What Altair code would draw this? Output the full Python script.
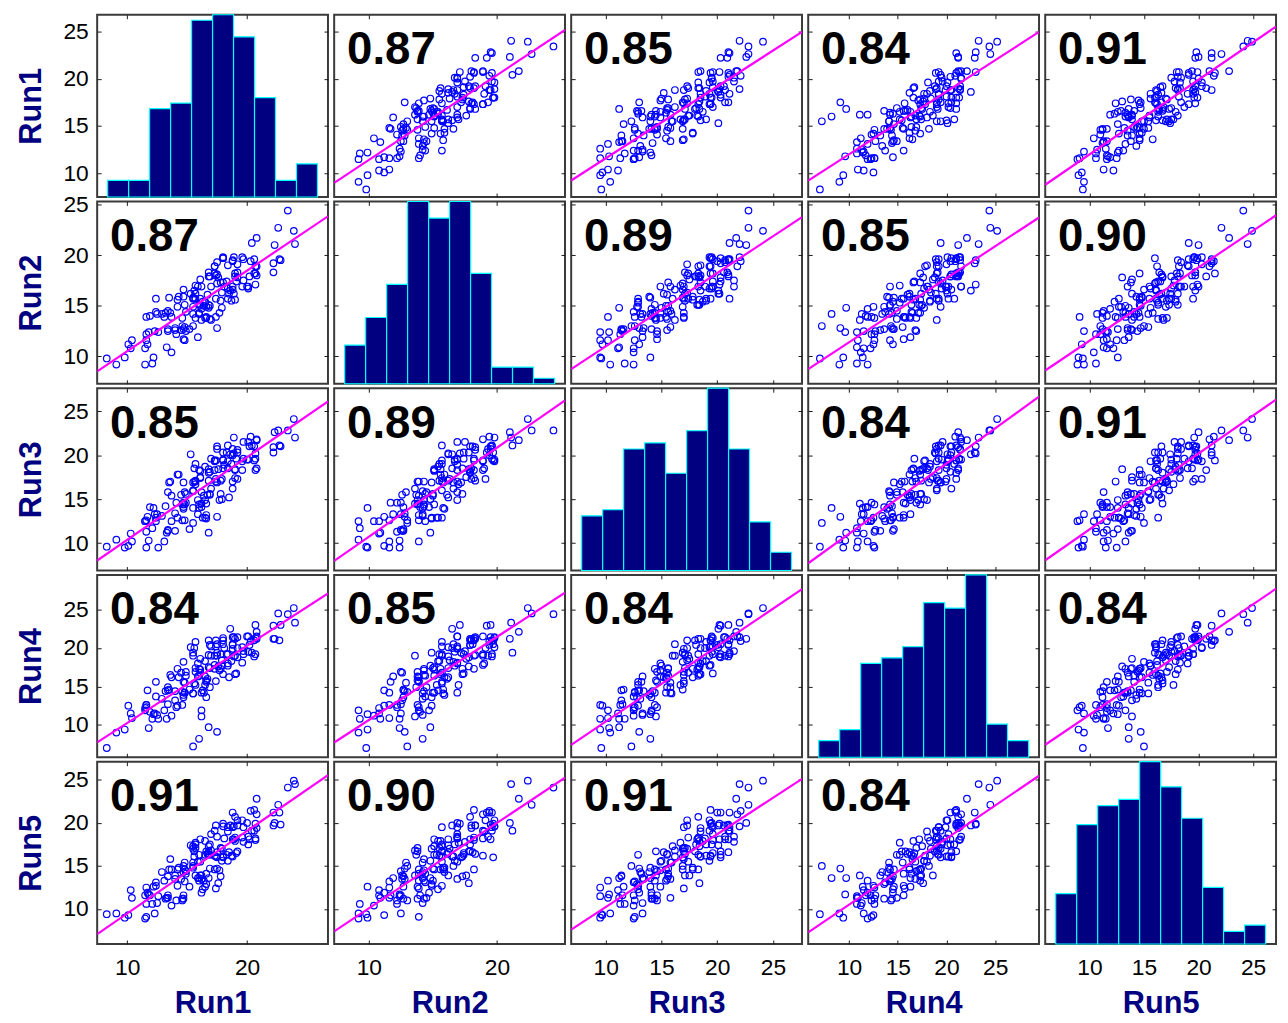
import altair as alt
import numpy as np
import pandas as pd

names = ["Run1", "Run2", "Run3", "Run4", "Run5"]

run1 = [8.3, 9.1, 9.8, 10.3, 10.4, 12.1, 10.1, 11.8, 11.5, 12.6,
        11.6, 13.7, 11.6, 13.3, 11.5, 14.6, 12.2, 11.6, 13.1, 12.3,
        12.5, 14.0, 11.7, 14.6, 13.4, 12.4, 14.1, 15.2, 11.9, 14.8,
        14.7, 12.9, 16.2, 13.4, 13.2, 15.5, 12.4, 14.7, 15.9, 14.2,
        16.6, 14.9, 13.4, 15.5, 14.0, 15.5, 16.0, 16.2, 16.8, 17.5,
        16.5, 14.7, 14.8, 16.3, 13.7, 13.5, 16.0, 16.5, 14.5, 16.4,
        15.9, 17.4, 14.8, 13.6, 16.6, 16.6, 14.2, 16.2, 17.9, 14.9,
        15.6, 17.7, 14.7, 16.9, 15.7, 17.8, 16.0, 17.0, 14.3, 16.7,
        18.7, 15.7, 16.9, 16.1, 15.7, 15.5, 17.3, 18.5, 16.5, 16.1,
        17.5, 16.1, 18.4, 15.5, 18.0, 19.0, 16.8, 15.3, 17.6, 17.8,
        17.3, 18.8, 16.8, 19.1, 15.6, 17.3, 18.8, 15.7, 19.2, 17.9,
        18.9, 16.8, 18.4, 17.4, 19.0, 17.4, 20.1, 18.0, 19.6, 17.0,
        20.7, 18.4, 16.9, 19.2, 18.3, 20.7, 18.6, 17.5, 19.6, 18.1,
        18.0, 19.7, 20.8, 17.5, 20.0, 20.1, 18.8, 20.6, 19.0, 18.8,
        20.3, 18.0, 20.2, 20.7, 19.7, 20.6, 18.9, 20.4, 22.2, 19.2,
        20.8, 22.7, 22.8, 22.2, 20.8, 22.6, 22.3, 23.4, 24.0, 23.9]

run2 = [9.8, 9.2, 9.9, 10.8, 11.6, 9.3, 11.2, 12.4, 9.2, 12.4,
        11.6, 10.4, 13.9, 10.9, 10.8, 13.0, 9.9, 12.2, 13.9, 12.5,
        14.2, 12.6, 11.2, 13.8, 12.5, 14.4, 12.2, 12.7, 14.0, 11.6,
        11.7, 14.2, 14.7, 12.7, 14.3, 14.2, 15.7, 12.7, 11.9, 14.9,
        14.9, 12.5, 14.5, 15.8, 12.8, 13.0, 14.2, 13.6, 14.8, 12.8,
        13.8, 15.9, 12.9, 15.4, 13.9, 15.8, 14.3, 15.3, 12.6, 15.0,
        16.9, 13.9, 15.1, 14.3, 13.9, 13.8, 15.6, 16.9, 14.8, 14.4,
        15.7, 14.3, 16.6, 13.7, 16.2, 17.3, 15.1, 13.6, 15.9, 16.1,
        15.5, 17.0, 15.0, 17.6, 13.8, 14.9, 18.2, 16.2, 15.4, 15.7,
        17.2, 15.1, 16.7, 15.7, 17.3, 15.6, 18.3, 16.2, 17.8, 15.5,
        18.9, 16.6, 15.1, 17.4, 16.5, 18.9, 16.9, 15.7, 17.8, 16.3,
        16.2, 17.9, 19.0, 15.7, 18.2, 18.0, 16.7, 19.7, 16.9, 16.9,
        18.2, 15.7, 17.9, 19.1, 17.4, 18.9, 16.5, 18.1, 19.8, 16.9,
        19.7, 17.5, 18.0, 19.3, 16.9, 16.9, 19.4, 19.6, 17.9, 19.5,
        19.4, 19.8, 17.9, 17.1, 19.6, 18.2, 19.8, 21.2, 19.2, 18.3,
        21.7, 19.6, 19.5, 18.3, 18.9, 22.7, 21.0, 24.4, 21.1, 22.4]

run3 = [9.6, 10.4, 9.5, 11.1, 10.2, 11.7, 9.7, 10.3, 12.5, 9.5,
        9.5, 12.5, 12.6, 11.2, 12.5, 12.6, 14.0, 11.3, 10.2, 13.3,
        13.3, 11.4, 13.0, 14.4, 11.5, 12.5, 14.6, 11.6, 14.1, 12.6,
        14.6, 13.1, 14.1, 11.4, 14.2, 15.9, 12.9, 14.1, 13.3, 12.9,
        12.8, 14.6, 15.8, 14.0, 13.4, 12.3, 14.0, 14.5, 11.2, 13.0,
        14.9, 13.9, 15.8, 12.9, 15.4, 16.9, 14.4, 12.9, 15.5, 15.4,
        14.9, 17.0, 14.4, 17.0, 13.2, 14.5, 17.8, 15.8, 15.0, 15.6,
        17.0, 14.9, 16.9, 15.5, 17.1, 15.6, 18.3, 16.2, 17.8, 15.5,
        19.0, 16.7, 15.6, 17.5, 17.0, 16.9, 18.3, 15.2, 18.7, 17.4,
        16.9, 18.2, 19.3, 16.0, 18.5, 18.4, 17.1, 20.1, 18.4, 17.1,
        19.3, 16.2, 18.4, 19.6, 18.5, 19.4, 17.0, 19.0, 20.3, 17.3,
        20.2, 18.0, 18.5, 19.4, 17.4, 17.3, 19.5, 20.3, 18.3, 19.6,
        19.6, 21.1, 18.1, 17.3, 20.3, 18.3, 20.1, 21.0, 19.3, 18.9,
        19.4, 21.5, 18.5, 20.7, 19.5, 21.5, 20.0, 21.0, 18.3, 20.7,
        22.1, 19.5, 21.0, 20.2, 19.6, 19.4, 22.0, 21.1, 20.3, 20.6,
        21.7, 21.1, 21.0, 20.9, 21.8, 22.8, 22.6, 22.8, 22.0, 24.1]

run4 = [7.0, 9.0, 9.4, 11.5, 10.9, 10.8, 12.5, 9.6, 11.9, 10.8,
        12.6, 11.2, 12.3, 10.8, 12.2, 14.3, 11.4, 12.6, 11.9, 11.5,
        11.3, 13.2, 14.5, 12.6, 12.7, 13.7, 12.3, 14.6, 11.7, 14.2,
        15.6, 13.4, 11.9, 14.5, 14.4, 14.1, 15.6, 13.6, 16.3, 12.5,
        13.6, 16.9, 14.9, 14.1, 14.4, 7.2, 8.2, 11.1, 9.7, 9.1,
        16.3, 13.9, 15.5, 14.5, 16.2, 14.6, 17.3, 15.2, 16.8, 14.2,
        18.0, 15.7, 14.2, 16.5, 15.6, 15.8, 17.3, 14.2, 17.7, 16.4,
        15.4, 17.1, 18.2, 14.9, 17.4, 17.3, 16.4, 19.0, 16.2, 16.0,
        18.3, 15.2, 17.4, 18.6, 16.9, 19.4, 17.3, 16.2, 18.3, 16.8,
        19.4, 17.2, 17.7, 19.0, 16.6, 16.6, 19.1, 20.1, 17.6, 19.2,
        19.0, 20.5, 17.5, 16.7, 20.0, 17.8, 19.9, 20.8, 18.8, 18.4,
        18.9, 21.0, 18.0, 20.2, 19.0, 21.0, 19.5, 20.5, 18.1, 20.2,
        21.3, 19.2, 20.4, 20.0, 19.2, 19.2, 22.5, 20.5, 20.1, 20.0,
        21.0, 19.6, 21.2, 19.0, 21.5, 21.5, 20.4, 18.9, 21.2, 21.4,
        20.9, 21.3, 20.4, 23.0, 19.2, 21.0, 21.4, 19.4, 22.9, 21.4,
        22.1, 21.0, 23.0, 21.2, 21.5, 24.5, 21.2, 24.4, 23.3, 25.2]

run5 = [9.4, 9.5, 9.0, 12.2, 11.3, 10.6, 9.3, 11.7, 8.9, 11.5,
        12.5, 10.4, 9.1, 11.3, 11.6, 11.0, 12.6, 10.6, 13.3, 9.5,
        10.7, 13.9, 11.9, 11.2, 11.6, 13.1, 11.0, 12.6, 11.6, 13.2,
        11.6, 14.3, 11.9, 13.8, 11.2, 15.4, 12.7, 11.2, 13.6, 12.7,
        12.9, 14.4, 11.3, 14.8, 13.5, 15.0, 13.6, 13.9, 13.6, 14.7,
        12.6, 14.3, 15.4, 12.3, 14.6, 14.6, 13.3, 16.3, 13.5, 13.3,
        15.5, 12.4, 14.6, 15.8, 14.1, 16.7, 14.6, 13.5, 15.6, 14.1,
        16.7, 14.5, 15.0, 16.3, 13.9, 13.8, 16.3, 16.8, 14.8, 16.4,
        16.2, 17.7, 14.7, 13.9, 17.1, 17.0, 14.6, 16.6, 17.9, 15.5,
        16.0, 18.1, 15.6, 17.3, 16.1, 17.9, 16.4, 17.4, 13.0, 17.1,
        19.1, 16.1, 17.3, 16.5, 16.1, 16.2, 19.5, 17.5, 16.7, 17.0,
        18.1, 16.7, 19.0, 16.1, 18.3, 19.7, 17.5, 16.0, 18.3, 18.7,
        18.0, 19.5, 17.5, 20.3, 16.3, 18.2, 19.7, 16.6, 20.3, 18.2,
        19.9, 17.8, 19.4, 18.4, 20.0, 18.4, 21.2, 19.1, 20.7, 18.1,
        21.4, 19.6, 18.1, 19.9, 19.5, 21.5, 19.6, 19.1, 21.2, 19.7,
        22.8, 21.2, 19.8, 19.7, 21.0, 22.1, 20.0, 24.1, 24.5, 24.9]

corr_text = [
    ["", "0.87", "0.85", "0.84", "0.91"],
    ["0.87", "", "0.89", "0.85", "0.90"],
    ["0.85", "0.89", "", "0.84", "0.91"],
    ["0.84", "0.85", "0.84", "", "0.84"],
    ["0.91", "0.90", "0.91", "0.84", ""],
]

axis_min = [7.5, 7.3, 6.9, 5.8, 5.95]
axis_max = [26.75, 25.3, 27.6, 29.5, 27.1]
x_ticks = [[10, 20], [10, 20], [10, 15, 20, 25], [10, 15, 20, 25], [10, 15, 20, 25]]
y_ticks = [10, 15, 20, 25]

W, H = 233, 184
TICK = 4
NAVY = "#000080"
FRAME = "#3a3a3a"
FONT = "Liberation Sans"

df = pd.DataFrame({n: v for n, v in zip(names, [run1, run2, run3, run4, run5])})


def sc(k):
    return alt.Scale(domain=[axis_min[k], axis_max[k]], nice=False, zero=False)


def make_axis(orient, values, show, title):
    kw = dict(orient=orient, values=values, offset=-TICK, tickSize=TICK, domain=False,
              grid=False, tickColor="#1a1a1a", tickWidth=1, labels=show)
    if show:
        kw.update(title=title, labelFontSize=23, labelColor="black", labelFont=FONT,
                  titleFontSize=31, titleFontWeight="bold", titleColor=NAVY, titleFont=FONT)
        if orient == "bottom":
            kw.update(labelPadding=13, titlePadding=9)
        else:
            kw.update(labelPadding=9, titlePadding=16)
    else:
        kw.update(title=None)
    return alt.Axis(**kw)


def axis_layers(i, j):
    xf, yf = names[j], names[i]
    bl = alt.Chart(df).mark_point(opacity=0).encode(
        x=alt.X(f"{xf}:Q", scale=sc(j), axis=make_axis("bottom", x_ticks[j], i == 4, xf)),
        y=alt.Y(f"{yf}:Q", scale=sc(i), axis=make_axis("left", y_ticks, j == 0, yf)),
    )
    tr = alt.Chart(df).mark_point(opacity=0).encode(
        x=alt.X(f"{xf}:Q", scale=sc(j), axis=make_axis("top", x_ticks[j], False, xf)),
        y=alt.Y(f"{yf}:Q", scale=sc(i), axis=make_axis("right", y_ticks, False, yf)),
    )
    return bl, tr


view = alt.ViewBackground(stroke=FRAME, strokeWidth=2)


def panel(i, j):
    xf, yf = names[j], names[i]
    bl, tr = axis_layers(i, j)
    if i == j:
        vals = np.array(df[xf])
        counts, edges = np.histogram(vals, bins=10)
        hdf = pd.DataFrame({"lo": edges[:-1], "hi": edges[1:], "n": counts})
        rng = vals.max() - vals.min()
        hdom = [vals.min() - 0.05 * rng, vals.max() + 0.05 * rng]
        bars = alt.Chart(hdf).mark_rect(color=NAVY, stroke="#00FFFF", strokeWidth=1.2, opacity=1).encode(
            x=alt.X("lo:Q", scale=alt.Scale(domain=hdom, nice=False, zero=False), axis=None),
            x2="hi",
            y=alt.Y("n:Q", scale=alt.Scale(nice=False, zero=True), axis=None),
            y2=alt.datum(0),
        )
        return alt.layer(bars, bl, tr).resolve_scale(x="independent", y="independent").resolve_axis(
            x="independent", y="independent").properties(width=W, height=H, view=view)
    pts = alt.Chart(df).mark_point(shape="circle", filled=False, color="#0000FF", size=44,
                                   strokeWidth=1.2, opacity=1).encode(
        x=alt.X(f"{xf}:Q", scale=sc(j), axis=None),
        y=alt.Y(f"{yf}:Q", scale=sc(i), axis=None),
    )
    reg = alt.Chart(df).transform_regression(xf, yf, extent=[axis_min[j], axis_max[j]]).mark_line(
        color="#FF00FF", strokeWidth=2.2, clip=True).encode(
        x=alt.X(f"{xf}:Q", scale=sc(j), axis=None),
        y=alt.Y(f"{yf}:Q", scale=sc(i), axis=None),
    )
    txt = alt.Chart(pd.DataFrame({"t": [corr_text[i][j]]})).mark_text(
        align="left", baseline="alphabetic", fontSize=46, fontWeight="bold", color="black", font=FONT
    ).encode(text="t:N", x=alt.value(13), y=alt.value(50))
    return alt.layer(bl, tr, pts, reg, txt).resolve_axis(x="independent", y="independent").properties(
        width=W, height=H, view=view)


panels = [panel(i, j) for i in range(5) for j in range(5)]
chart = alt.concat(*panels, columns=5, spacing={"row": 4.5, "column": 6.25}, bounds="flush").properties(
    padding={"left": 6, "top": 0, "right": 2, "bottom": 2}
).configure_view(stroke=FRAME, strokeWidth=2).configure(font=FONT)

chart.save("out.html", embed_options={"renderer": "svg", "actions": False})
